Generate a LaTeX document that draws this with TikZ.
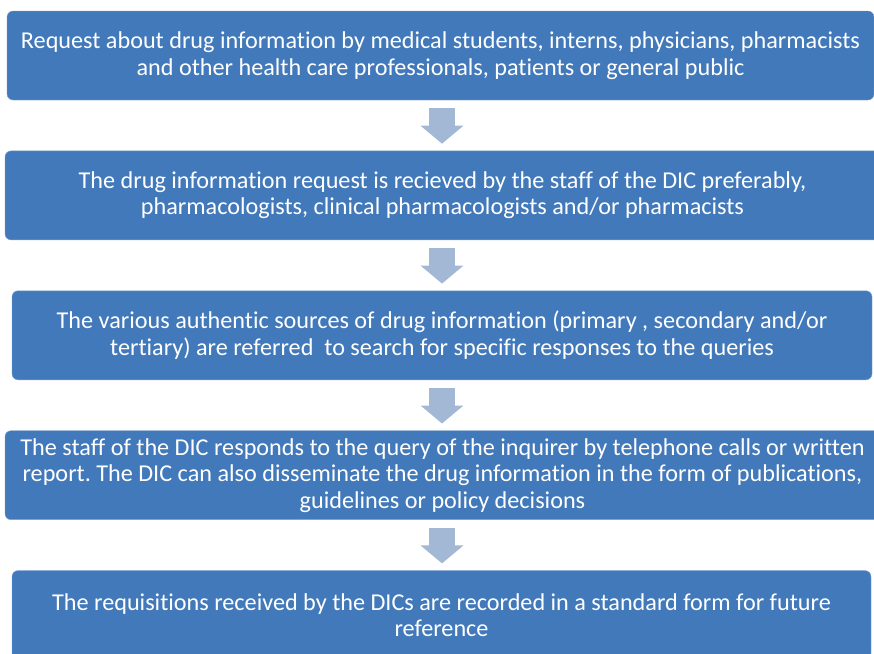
\documentclass[tikz,border=0pt]{standalone}
\usepackage{fontspec}
\setmainfont[Ligatures=NoCommon]{Carlito}
\usepackage{xcolor}
\usepackage{tikz}
\usetikzlibrary{
arrows.meta,
positioning
}
\definecolor{dicblue}{HTML}{4279BA}
\definecolor{dicarrow}{HTML}{A3B8D5}
\frenchspacing

\begin{document}
\begin{tikzpicture}[
  x=1pt, y=-1pt,
  node distance=50.5pt,
  stage/.style={fill=dicblue, draw=dicblue!70!white, thin, rounded corners=6pt, minimum height=89pt, inner sep=2pt, align=center, text=white, font=\fontsize{24.2}{26.5}\selectfont},
  flow/.style={line width=26pt, dicarrow, shorten <=8pt, shorten >=7pt, -{Triangle[length=18pt, width=42pt]}}
]
\clip (0,0) rectangle (874,653);

% Stages
\node[stage, minimum width=867pt] (b1) at (440.5,55.5) {Request about drug information by medical students, interns, physicians, pharmacists\\and other health care professionals, patients or general public};
\node[stage, minimum width=875pt, below=of b1, xshift=2pt] (b2) {The drug information request is recieved by the staff of the DIC preferably,\\pharmacologists, clinical pharmacologists and/or pharmacists};
\node[stage, minimum width=860pt, below=of b2, xshift=-0.5pt] (b3) {The various authentic sources of drug information (primary , secondary and/or\\tertiary) are referred\ \ to search for specific responses to the queries};
\node[stage, minimum width=875pt, below=of b3, xshift=0.5pt] (b4) {The staff of the DIC responds to the query of the inquirer by telephone calls or written\\report. The DIC can also disseminate the drug information in the form of publications,\\guidelines or policy decisions};
\node[stage, minimum width=859pt, below=of b4, xshift=-1pt] (b5) {The requisitions received by the DICs are recorded in a standard form for future\\reference};

% Arrows
\coordinate (ax) at (442,0);
\foreach \a/\b in {b1/b2, b2/b3, b3/b4, b4/b5}
  \draw[flow] (\a.south -| ax) -- (\b.north -| ax);

\end{tikzpicture}
\end{document}
